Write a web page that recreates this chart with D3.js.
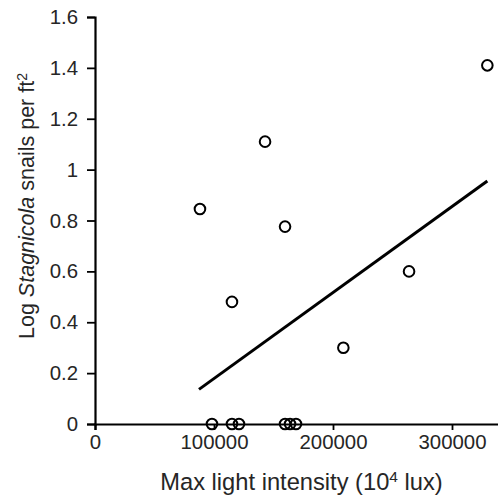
<!DOCTYPE html>
<html>
<head>
<meta charset="utf-8">
<script src="https://cdn.jsdelivr.net/npm/d3@7"></script>
<style>
    body { margin: 0; background: #fff; }
    text { font-family: "Liberation Sans", Arial, sans-serif; fill: #262626; }
</style>
</head>
<body>
<div id="main"></div>
<script>
// max light intensity (10^4 lux)
const lightX = [88200, 115100, 142900, 159700, 208700, 263900, 329700,
                98300, 115100, 121000, 159700, 163900, 168900];
// log Stagnicola snails per ft2
const snailsY = [0.845, 0.48, 1.11, 0.776, 0.30, 0.60, 1.41,
                 0, 0, 0, 0, 0, 0];
// fitted line end points
const trendX = [87400, 329700];
const trendY = [0.136, 0.955];

const xTicks = [0, 100000, 200000, 300000];
const yTicks = [0, 0.2, 0.4, 0.6, 0.8, 1, 1.2, 1.4, 1.6];

const ctx = {
    w: 498,
    h: 497,
    left: 95,
    top: 17,
    bottom: 424,
    font_size: 20,
};

function createViz() {
    let svg = d3.select("#main").append("svg")
        .attr("width", ctx.w)
        .attr("height", ctx.h);

    let x = d3.scaleLinear().domain([0, 350000]).range([ctx.left, ctx.left + 3.5 * 119]);
    let y = d3.scaleLinear().domain([0, 1.6]).range([ctx.bottom, ctx.top]);

    // x axis
    let xAxis = svg.append("g")
        .attr("transform", `translate(0,${ctx.bottom})`)
        .call(d3.axisBottom(x).tickValues(xTicks).tickSize(6).tickPadding(5).tickFormat(d3.format("d")));
    xAxis.select(".domain").attr("stroke", "#000").attr("stroke-width", 2.2);
    xAxis.selectAll(".tick line").attr("stroke", "#000").attr("stroke-width", 1.8);
    xAxis.selectAll("text")
        .style("font-size", "20.4px")
        .attr("font-family", null)
        .attr("fill", "#262626");

    // y axis
    let yAxis = svg.append("g")
        .attr("transform", `translate(${ctx.left},0)`)
        .call(d3.axisLeft(y).tickValues(yTicks).tickSize(8).tickPadding(9).tickFormat(d => d3.format("")(+d.toFixed(1))));
    yAxis.select(".domain").attr("stroke", "#000").attr("stroke-width", 2.2);
    yAxis.selectAll(".tick line").attr("stroke", "#000").attr("stroke-width", 1.8);
    yAxis.selectAll("text")
        .style("font-size", "20.4px")
        .attr("font-family", null)
        .attr("fill", "#262626");

    // trend line
    svg.append("line")
        .attr("x1", x(trendX[0])).attr("y1", y(trendY[0]))
        .attr("x2", x(trendX[1])).attr("y2", y(trendY[1]))
        .attr("stroke", "#000")
        .attr("stroke-width", 3);

    // points
    svg.selectAll("circle.pt")
        .data(d3.range(lightX.length))
        .enter().append("circle")
        .attr("class", "pt")
        .attr("cx", i => x(lightX[i]))
        .attr("cy", i => y(snailsY[i]))
        .attr("r", 5.3)
        .attr("fill", "none")
        .attr("stroke", "#000")
        .attr("stroke-width", 2);

    // x title
    let xt = svg.append("text")
        .attr("x", 301.5)
        .attr("y", 490)
        .attr("text-anchor", "middle")
        .style("font-size", "23.7px");
    xt.append("tspan").text("Max light intensity (10");
    xt.append("tspan").attr("dy", -8).style("font-size", "15.5px").text("4");
    xt.append("tspan").attr("dy", 8).text(" lux)");

    // y title
    let yt = svg.append("text")
        .attr("transform", "translate(33.5,206) rotate(-90)")
        .attr("text-anchor", "middle")
        .style("font-size", "21.5px");
    yt.append("tspan").text("Log ");
    yt.append("tspan").style("font-style", "italic").text("Stagnicola");
    yt.append("tspan").text(" snails per ft");
    yt.append("tspan").attr("dy", -7).style("font-size", "14px").text("2");
}

createViz();
</script>
</body>
</html>
